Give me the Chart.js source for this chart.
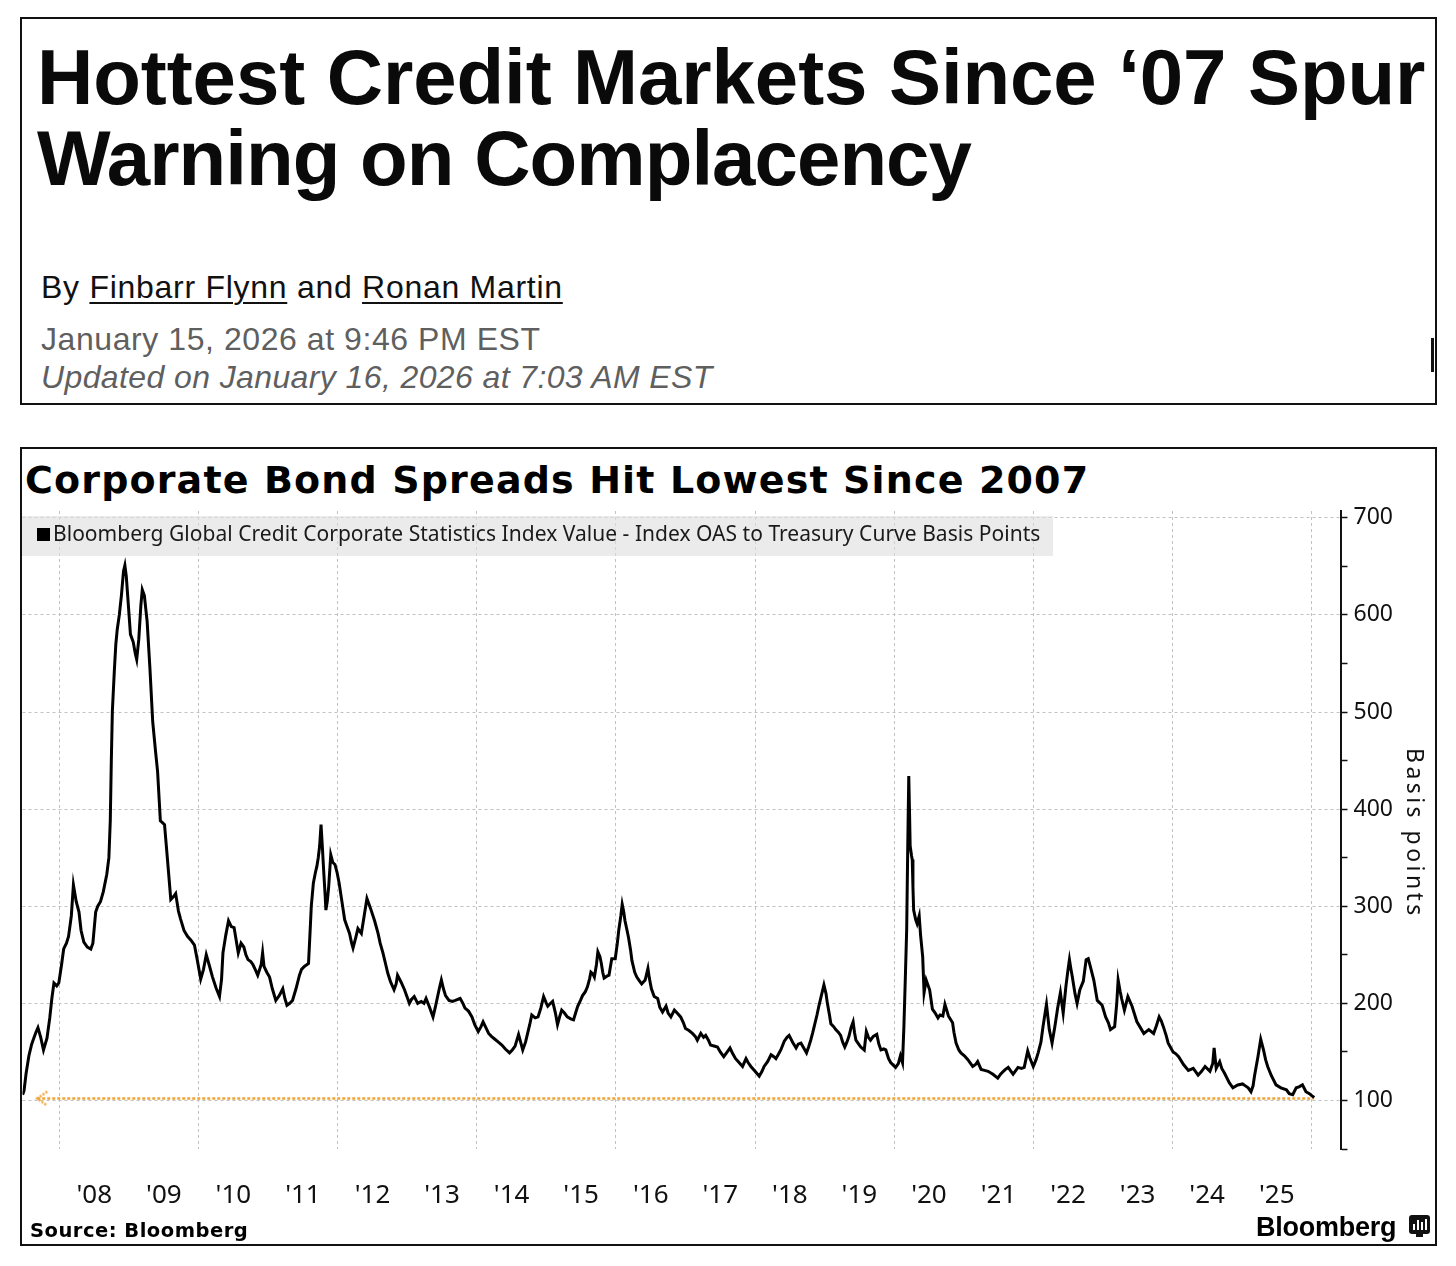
<!DOCTYPE html>
<html>
<head>
<meta charset="utf-8">
<script src="https://cdn.jsdelivr.net/npm/chart.js@4.4.1/dist/chart.umd.min.js"></script>
<style>
  html, body { margin: 0; padding: 0; background: #fff; }
  body { width: 1456px; height: 1266px; position: relative; overflow: hidden; }
  .abs { position: absolute; white-space: nowrap; }
  .box { position: absolute; box-sizing: border-box; border: 2.5px solid #111; }
  .hl { font-family: 'Liberation Sans', Arial, sans-serif; font-weight: 700; font-size: 78px; line-height: 78px; color: #0a0a0a; }
  .meta { font-family: 'Liberation Sans', Arial, sans-serif; font-size: 32px; line-height: 32px; }
  .meta u { text-decoration-thickness: 1.5px; text-underline-offset: 4px; }
  #chartWrap { position: absolute; left: 20.5px; top: 450px; width: 1415.5px; height: 795px; }
</style>
</head>
<body>

<!-- article header -->
<div class="box" style="left:20px;top:17px;width:1417px;height:388px;"></div>
<div class="abs" style="left:1431px;top:338px;width:3px;height:34px;background:#111;"></div>
<div class="abs hl" style="left:37px;top:38px;" data-fit="1388">Hottest Credit Markets Since ‘07 Spur</div>
<div class="abs hl" style="left:37px;top:119px;" data-fit="935">Warning on Complacency</div>
<div class="abs meta" style="left:41px;top:271px;color:#111;" data-fit="521">By <u>Finbarr Flynn</u> and <u>Ronan Martin</u></div>
<div class="abs meta" style="left:41px;top:323px;color:#5f5f5f;" data-fit="499">January 15, 2026 at 9:46 PM EST</div>
<div class="abs meta" style="left:41px;top:361px;color:#5f5f5f;font-style:italic;" data-fit="671">Updated on January 16, 2026 at 7:03 AM EST</div>

<!-- chart panel -->
<div class="box" style="left:20px;top:447px;width:1417px;height:799px;"></div>
<div class="abs" style="left:25px;top:461px;font-family:'DejaVu Sans',sans-serif;font-weight:700;font-size:38px;line-height:38px;color:#000;" data-fit="1063">Corporate Bond Spreads Hit Lowest Since 2007</div>

<div id="chartWrap"><canvas id="spreadChart"></canvas></div>

<div class="abs" style="left:22px;top:516px;width:1031px;height:40px;background:rgba(222,222,222,0.6);"></div>
<div class="abs" style="left:37px;top:528px;width:13px;height:13px;background:#000;"></div>
<div class="abs" style="left:53px;top:523px;font-family:'Noto Sans',sans-serif;font-size:21px;line-height:21px;color:#1a1a1a;" data-fit="987">Bloomberg Global Credit Corporate Statistics Index Value - Index OAS to Treasury Curve Basis Points</div>

<div class="abs" id="yTitle" style="left:1429px;top:748px;font-family:'Noto Sans',sans-serif;font-size:23px;line-height:27px;color:#111;transform-origin:0 0;transform:rotate(90deg);" data-fit="167">Basis points</div>

<div class="abs" style="left:30px;top:1221px;font-family:'DejaVu Sans',sans-serif;font-weight:700;font-size:19.5px;line-height:19.5px;color:#000;" data-fit="218">Source: Bloomberg</div>
<div class="abs" style="left:1256px;top:1214px;font-family:'Liberation Sans',Arial,sans-serif;font-weight:700;font-size:27px;line-height:27px;color:#000;" data-fit="141">Bloomberg</div>
<div class="abs" style="left:1409px;top:1215px;width:21px;height:19px;background:#111;border-radius:3px;">
  <div class="abs" style="left:4px;top:9px;width:2px;height:6px;background:#fff;"></div>
  <div class="abs" style="left:8px;top:5px;width:2px;height:10px;background:#fff;"></div>
  <div class="abs" style="left:12px;top:7px;width:2px;height:8px;background:#fff;"></div>
  <div class="abs" style="left:16px;top:4px;width:2px;height:11px;background:#fff;"></div>
</div>
<div class="abs" style="left:1416px;top:1233px;width:7px;height:4px;background:#111;"></div>

<script>
// Bloomberg Global Credit Corporate index OAS, bp
const dates = [
  2007.47, 2007.49, 2007.52, 2007.56, 2007.60, 2007.63, 2007.66, 2007.69, 2007.73, 2007.77, 2007.82, 2007.86, 2007.89, 2007.92, 2007.96, 2007.99,
  2008.03, 2008.06, 2008.10, 2008.13, 2008.17, 2008.20, 2008.24, 2008.28, 2008.31, 2008.35, 2008.40, 2008.45, 2008.48, 2008.52, 2008.55, 2008.59, 2008.63, 2008.68, 2008.71, 2008.73, 2008.745, 2008.76, 2008.79, 2008.81, 2008.83, 2008.86, 2008.89, 2008.92, 2008.94, 2008.96, 2008.99,
  2009.02, 2009.06, 2009.09, 2009.11, 2009.14, 2009.17, 2009.19, 2009.22, 2009.26, 2009.30, 2009.34, 2009.38, 2009.41, 2009.45, 2009.48, 2009.51, 2009.55, 2009.60, 2009.64, 2009.67, 2009.71, 2009.74, 2009.79, 2009.84, 2009.89, 2009.94, 2009.98,
  2010.03, 2010.07, 2010.11, 2010.15, 2010.20, 2010.25, 2010.30, 2010.33, 2010.35, 2010.39, 2010.43, 2010.47, 2010.51, 2010.54, 2010.57, 2010.61, 2010.65, 2010.68, 2010.71, 2010.75, 2010.78, 2010.82, 2010.85, 2010.90, 2010.92, 2010.94, 2010.98,
  2011.02, 2011.06, 2011.11, 2011.16, 2011.21, 2011.24, 2011.27, 2011.31, 2011.35, 2011.40, 2011.45, 2011.48, 2011.52, 2011.56, 2011.58, 2011.60, 2011.62, 2011.65, 2011.68, 2011.70, 2011.72, 2011.74, 2011.76, 2011.78, 2011.80, 2011.82, 2011.83, 2011.85, 2011.87, 2011.90, 2011.93, 2011.96, 2011.99,
  2012.02, 2012.06, 2012.10, 2012.13, 2012.17, 2012.20, 2012.22, 2012.26, 2012.29, 2012.34, 2012.38, 2012.42, 2012.45, 2012.48, 2012.53, 2012.58, 2012.61, 2012.65, 2012.69, 2012.72, 2012.76, 2012.81, 2012.84, 2012.86, 2012.91, 2012.96,
  2013.00, 2013.03, 2013.06, 2013.10, 2013.15, 2013.20, 2013.24, 2013.27, 2013.32, 2013.37, 2013.40, 2013.43, 2013.46, 2013.49, 2013.52, 2013.55, 2013.60, 2013.65, 2013.69, 2013.76, 2013.80, 2013.83, 2013.88, 2013.93, 2013.97,
  2014.02, 2014.06, 2014.09, 2014.13, 2014.17, 2014.21, 2014.26, 2014.31, 2014.36, 2014.41, 2014.47, 2014.51, 2014.55, 2014.60, 2014.63, 2014.66, 2014.70, 2014.73, 2014.76, 2014.79, 2014.84, 2014.88, 2014.92, 2014.96,
  2015.00, 2015.02, 2015.06, 2015.09, 2015.13, 2015.16, 2015.19, 2015.22, 2015.26, 2015.30, 2015.35, 2015.39, 2015.42, 2015.45, 2015.49, 2015.52, 2015.56, 2015.59, 2015.62, 2015.64, 2015.67, 2015.69, 2015.72, 2015.74, 2015.77, 2015.79, 2015.81, 2015.83, 2015.87, 2015.90, 2015.94, 2015.99,
  2016.02, 2016.04, 2016.07, 2016.09, 2016.11, 2016.13, 2016.16, 2016.18, 2016.21, 2016.23, 2016.27, 2016.30, 2016.34, 2016.37, 2016.42, 2016.46, 2016.48, 2016.51, 2016.55, 2016.60, 2016.63, 2016.67, 2016.72, 2016.75, 2016.79, 2016.84, 2016.88, 2016.93, 2016.97,
  2017.00, 2017.05, 2017.10, 2017.14, 2017.17, 2017.22, 2017.26, 2017.29, 2017.33, 2017.36, 2017.41, 2017.46, 2017.50, 2017.55, 2017.60, 2017.64, 2017.68, 2017.72, 2017.77, 2017.82, 2017.87, 2017.90, 2017.94,
  2018.00, 2018.06, 2018.10, 2018.13, 2018.18, 2018.23, 2018.27, 2018.30, 2018.34, 2018.37, 2018.42, 2018.46, 2018.49, 2018.54, 2018.59, 2018.62, 2018.66, 2018.70, 2018.74, 2018.77, 2018.80, 2018.83, 2018.85, 2018.89, 2018.92, 2018.96, 2018.99,
  2019.02, 2019.04, 2019.07, 2019.09, 2019.13, 2019.16, 2019.20, 2019.23, 2019.26, 2019.29, 2019.32, 2019.35, 2019.38, 2019.41, 2019.43, 2019.45, 2019.49, 2019.52, 2019.57, 2019.60, 2019.63, 2019.66, 2019.70, 2019.75, 2019.78, 2019.81, 2019.85, 2019.88, 2019.92, 2019.95,
  2020.02, 2020.06, 2020.09, 2020.12, 2020.14, 2020.16, 2020.18, 2020.195, 2020.21, 2020.22, 2020.23, 2020.25, 2020.26, 2020.27, 2020.28, 2020.31, 2020.33, 2020.36, 2020.38, 2020.41, 2020.43, 2020.46, 2020.48, 2020.51, 2020.55, 2020.59, 2020.63, 2020.66, 2020.70, 2020.73, 2020.76, 2020.78, 2020.84, 2020.86, 2020.89, 2020.93, 2020.96,
  2021.01, 2021.06, 2021.10, 2021.13, 2021.17, 2021.20, 2021.25, 2021.30, 2021.35, 2021.42, 2021.49, 2021.53, 2021.57, 2021.60, 2021.64, 2021.68, 2021.71, 2021.75, 2021.78, 2021.83, 2021.87, 2021.92, 2021.95,
  2022.00, 2022.04, 2022.07, 2022.11, 2022.14, 2022.17, 2022.19, 2022.23, 2022.27, 2022.31, 2022.35, 2022.39, 2022.43, 2022.47, 2022.50, 2022.52, 2022.54, 2022.56, 2022.60, 2022.63, 2022.67, 2022.72, 2022.76, 2022.79, 2022.82, 2022.87, 2022.92, 2022.99,
  2023.04, 2023.08, 2023.11, 2023.17, 2023.20, 2023.22, 2023.25, 2023.27, 2023.31, 2023.36, 2023.42, 2023.45, 2023.49, 2023.54, 2023.59, 2023.66, 2023.73, 2023.77, 2023.81, 2023.84, 2023.87, 2023.91, 2023.94,
  2024.01, 2024.05, 2024.09, 2024.16, 2024.23, 2024.30, 2024.37, 2024.42, 2024.47, 2024.54, 2024.58, 2024.60, 2024.63, 2024.68, 2024.71, 2024.75, 2024.82, 2024.87, 2024.94,
  2025.01, 2025.05, 2025.09, 2025.13, 2025.16, 2025.18, 2025.23, 2025.27, 2025.31, 2025.34, 2025.37, 2025.42, 2025.49, 2025.56, 2025.64, 2025.68, 2025.73, 2025.78, 2025.82, 2025.87, 2025.92, 2025.97,
  2026.02, 2026.04
];
const spread = [
  106, 110, 128, 146, 158, 164, 170, 175, 165, 152, 164, 185, 205, 221, 218, 221,
  240, 256, 262, 269, 290, 322, 305, 294, 275, 263, 258, 256, 262, 294, 300, 305, 315, 333, 350, 388, 450, 501, 545, 570, 585, 600, 620, 645, 651, 640, 610,
  580, 572, 560, 554, 575, 610, 626, 620, 593, 545, 490, 460, 439, 388, 386, 384, 350, 307, 310, 313, 295, 287, 275, 269, 265, 260, 245,
  225, 235, 250, 240, 227, 216, 207, 225, 252, 270, 285, 279, 278, 265, 252, 262, 258, 250, 245, 243, 240, 234, 229, 240, 252, 238, 232,
  227, 215, 203, 208, 215, 205, 198, 200, 203, 215, 229, 235, 238, 240, 241, 270, 300, 324, 335, 341, 350, 362, 384, 360, 334, 310, 296, 305, 320, 353, 345, 343, 335,
  324, 305, 286, 280, 272, 262, 257, 268, 277, 272, 290, 308, 302, 296, 285, 272, 262, 252, 240, 231, 222, 214, 220, 229, 222, 214,
  206, 200, 204, 207, 200, 202, 200, 205, 196, 186, 195, 205, 215, 224, 215, 208, 203, 202, 203, 205, 200, 195, 192, 186, 178,
  171, 176, 181, 175, 169, 166, 163, 160, 157, 153, 149, 152, 156, 168, 160, 152, 160, 169, 178, 188, 185, 186, 195, 207,
  200, 197, 200, 202, 190, 178, 186, 193, 190, 186, 184, 183, 190, 197, 203, 208, 212, 217, 225, 232, 230, 227, 240, 253, 248, 241, 232, 226, 228, 229, 246, 246,
  262, 275, 290, 302, 295, 285, 275, 268, 255, 244, 232, 227, 223, 220, 224, 236, 226, 215, 207, 205, 196, 191, 197, 190, 186, 193, 190, 186, 180,
  174, 172, 169, 166, 162, 169, 165, 167, 162, 157, 156, 155, 150, 145, 150, 154, 148, 143, 139, 135, 143, 139, 135,
  130, 125, 130, 135, 140, 147, 145, 143, 148, 152, 161, 165, 167, 160, 154, 158, 159, 154, 149, 155, 162, 170, 176, 188, 198, 210, 219,
  210, 200, 188, 179, 176, 173, 170, 167, 160, 155, 160, 166, 175, 181, 170, 162, 158, 155, 152, 171, 165, 162, 166, 168, 158, 152, 153, 152, 143, 139,
  134, 138, 146, 139, 176, 225, 276, 360, 434, 400, 362, 352, 348, 320, 296, 286, 282, 290, 270, 248, 211, 224, 220, 214, 194, 190, 185, 188, 187, 199, 192, 187, 180, 170, 159, 152, 149,
  146, 142, 138, 135, 137, 140, 132, 131, 130, 127, 123, 127, 130, 132, 134, 130, 127, 131, 134, 133, 134, 151, 144,
  135, 142, 149, 160, 176, 190, 199, 173, 159, 176, 195, 211, 190, 218, 235, 245, 236, 228, 210, 200, 214, 223, 245, 246, 238, 224, 203, 198,
  186, 180, 173, 176, 200, 224, 212, 205, 193, 207, 197, 190, 181, 175, 169, 173, 169, 177, 186, 182, 176, 167, 159,
  150, 148, 145, 137, 131, 133, 126, 130, 135, 130, 138, 154, 133, 140, 133, 128, 118, 113, 116,
  117, 115, 113, 109, 115, 125, 145, 163, 152, 142, 135, 126, 116, 113, 111, 107, 106, 113, 114, 116, 109, 107,
  104, 103
];

// latest-level marker (orange dotted line with arrow)
const refDates = [2007.68, 2026.03];
const refLevel = [102, 102];

// x axis: labels at mid-year, dashed grid every other January
const labelYears = [2008, 2009, 2010, 2011, 2012, 2013, 2014, 2015, 2016, 2017, 2018, 2019, 2020, 2021, 2022, 2023, 2024, 2025];
const yearLabels = ["'08", "'09", "'10", "'11", "'12", "'13", "'14", "'15", "'16", "'17", "'18", "'19", "'20", "'21", "'22", "'23", "'24", "'25"];
const gridYears = [2008, 2010, 2012, 2014, 2016, 2018, 2020, 2022, 2024, 2026];

// stretch text to the widths measured on the reference
function fitText() {
  document.querySelectorAll('[data-fit]').forEach(el => {
    const target = parseFloat(el.dataset.fit);
    el.style.letterSpacing = '0px';
    const natural = el.offsetWidth;
    const n = el.textContent.length;
    el.style.letterSpacing = ((target - natural) / (n - 1)).toFixed(3) + 'px';
  });
}

// small dotted chevron used as the first point of the orange line
function makeArrow() {
  const c = document.createElement('canvas');
  c.width = 28; c.height = 18;
  const g = c.getContext('2d');
  g.strokeStyle = '#f0a437';
  g.lineWidth = 2.5;
  g.setLineDash([2, 1.5]);
  g.beginPath();
  g.moveTo(24, 2); g.lineTo(14, 9); g.lineTo(24, 16);
  g.stroke();
  return c;
}

function initChart() {
  fitText();
  const gridGray = '#c2c2c2';
  const arrow = makeArrow();

  const ctx = document.getElementById('spreadChart').getContext('2d');
  new Chart(ctx, {
    type: 'line',
    data: {
      datasets: [
        {
          label: 'Index OAS',
          data: dates.map((d, i) => ({ x: d, y: spread[i] })),
          borderColor: '#000',
          borderWidth: 3,
          pointRadius: 0,
          pointHoverRadius: 0,
          pointBorderWidth: 0,
          tension: 0,
          order: 0
        },
        {
          label: 'Latest',
          data: refDates.map((d, i) => ({ x: d, y: refLevel[i] })),
          borderColor: '#f0a437',
          borderWidth: 2.5,
          borderDash: [3, 2],
          pointStyle: arrow,
          pointRadius: c => c.dataIndex === 0 ? 1 : 0,
          pointHoverRadius: 0,
          pointBorderWidth: 0,
          order: 1
        }
      ]
    },
    options: {
      responsive: true,
      maintainAspectRatio: false,
      animation: false,
      layout: { padding: { top: 61, left: 0, right: 0, bottom: 0 } },
      plugins: { legend: { display: false }, tooltip: { enabled: false } },
      scales: {
        x: {
          type: 'linear',
          min: 2007.468,
          max: 2026.417,
          afterFit: s => { s.height = 96; s.paddingLeft = 0; s.paddingRight = 0; },
          afterBuildTicks: s => {
            const vals = gridYears.concat(labelYears.map(y => y + 0.5)).sort((a, b) => a - b);
            s.ticks = vals.map(v => ({ value: v }));
          },
          ticks: {
            autoSkip: false,
            maxRotation: 0,
            padding: 31,
            color: '#111',
            font: { family: "'Noto Sans', sans-serif", size: 26 },
            callback: v => {
              const i = labelYears.indexOf(v - 0.5);
              return i >= 0 ? yearLabels[i] : '';
            }
          },
          grid: {
            drawTicks: false,
            lineWidth: 1,
            color: c => (c.tick && gridYears.includes(c.tick.value)) ? gridGray : 'transparent'
          },
          border: { display: false, dash: [3, 3] }
        },
        y: {
          position: 'right',
          min: 50,
          max: 707,
          afterFit: s => { s.width = 96; s.paddingTop = 0; s.paddingBottom = 0; },
          ticks: {
            stepSize: 50,
            includeBounds: false,
            autoSkip: false,
            padding: 6,
            color: '#111',
            font: { family: "'Noto Sans', sans-serif", size: 23 },
            callback: v => v % 100 === 0 ? v : ''
          },
          grid: {
            lineWidth: 1,
            color: c => (c.tick && c.tick.value % 100 === 0) ? gridGray : 'transparent',
            tickColor: '#111',
            tickLength: 7,
            tickWidth: 1.5,
            tickBorderDash: []
          },
          border: { display: true, color: '#111', width: 2, dash: [3, 3] }
        }
      }
    }
  });
}

document.addEventListener('DOMContentLoaded', initChart);
</script>
</body>
</html>
